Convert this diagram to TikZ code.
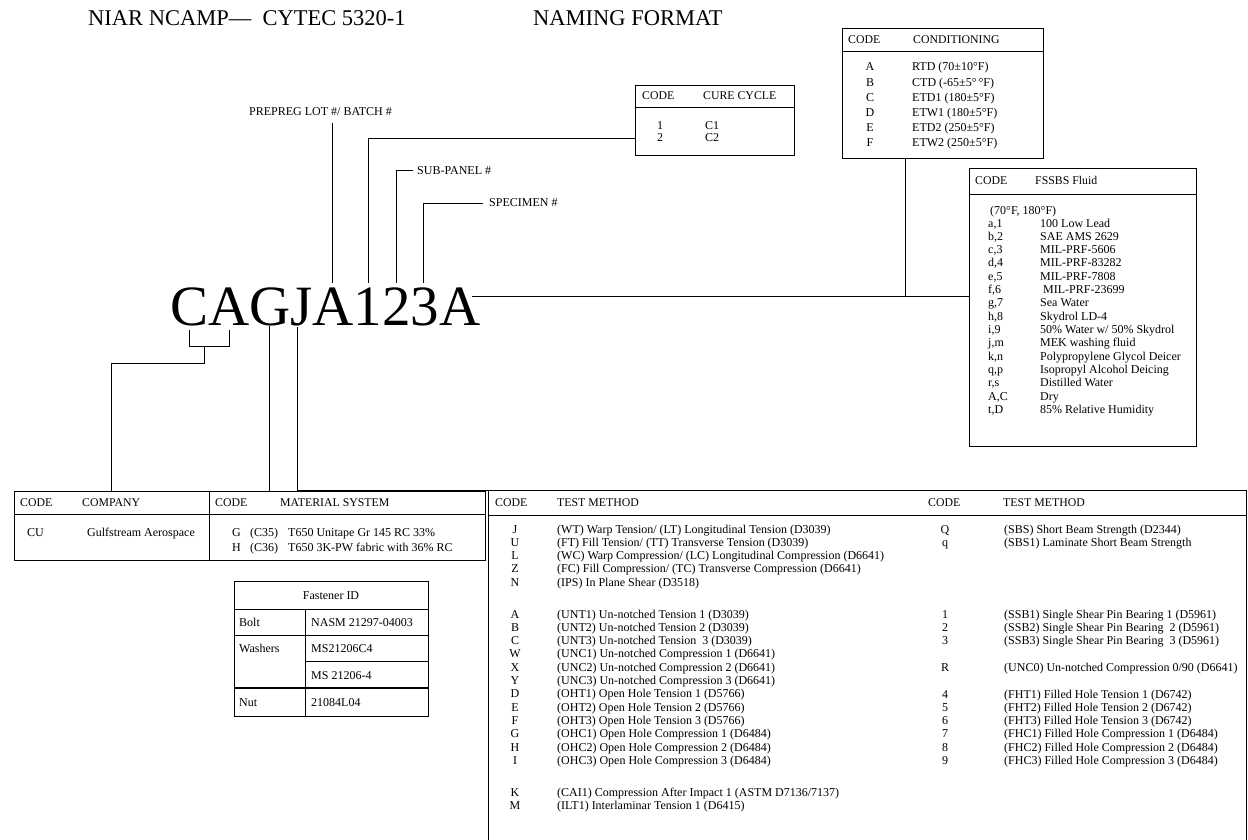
\documentclass[tikz,border=0pt]{standalone}
\usepackage{fontspec}
\setmainfont{Liberation Serif}
\begin{document}
\begin{tikzpicture}[x=1pt,y=-1pt]
\tikzset{
 ln/.style={line width=1pt},
 bx/.style={draw, line width=1pt, inner sep=0pt, anchor=north west},
 tx/.style={inner sep=0pt, anchor=base west, font=\fontsize{12}{14}\selectfont},
 tc/.style={inner sep=0pt, anchor=base, font=\fontsize{12}{14}\selectfont},
 hd/.style={inner sep=0pt, anchor=base west, font=\fontsize{11.8}{13}\selectfont},
 ttl/.style={inner sep=0pt, anchor=base west, font=\fontsize{22.5}{26}\selectfont},
}
\useasboundingbox (0,0) rectangle (1248,840);
\fill[white] (0,0) rectangle (1248,840);

% titles
\node[ttl] (title1) at (88,26) {NIAR NCAMP—\ \ CYTEC 5320-1};
\node[ttl] (title2) at (533,26) {NAMING FORMAT};

% big code
\node[inner sep=0pt, anchor=base west, font=\fontsize{57}{60}\selectfont] (code) at (170,325) {CAGJA123A};

% labels
\node[tx] (lot) at (249,116) {PREPREG LOT \#/ BATCH \#};
\node[tx] (sub) at (417,175) {SUB-PANEL \#};
\node[tx] (spec) at (489,207) {SPECIMEN \#};

% coordinates on letters
\coordinate (aTop) at (332,283);
\coordinate (oneTop) at (368,283);
\coordinate (twoTop) at (396,283);
\coordinate (threeTop) at (423,283);
\coordinate (lastA) at (472,296);
\coordinate (cBot) at (189,330);
\coordinate (aBot) at (229,330);
\coordinate (gBot) at (269,326);
\coordinate (jBot) at (297,327);

% cure cycle box
\node[bx, minimum width=159, minimum height=70] (cure) at (635,85) {};
\draw[ln] (635,108) -- (794,108);
\node[hd] (cureh1) at (642,100) {CODE};
\node[hd] (cureh2) at (703,100) {CURE CYCLE};
\node[tc] (cr1) at (660,130) {1};
\node[tx] (cr1b) at (705,130) {C1};
\node[tc] (cr2) at (660,142) {2};
\node[tx] (cr2b) at (705,142) {C2};

% conditioning box
\node[bx, minimum width=201, minimum height=130] (cond) at (842,28) {};
\draw[ln] (842,52) -- (1043,52);
\node[hd] (condh1) at (848,44) {CODE};
\node[hd] (condh2) at (913,44) {CONDITIONING};
\foreach \c/\t [count=\i from 0] in {A/{RTD (70±10°F)},B/{CTD (-65±5°\,°F)},C/{ETD1 (180±5°F)},D/{ETW1 (180±5°F)},E/{ETD2 (250±5°F)},F/{ETW2 (250±5°F)}}{
  \node[tc] (cc\i) at (870,{71+15.2*\i}) {\c};
  \node[tx] (ct\i) at (912,{71+15.2*\i}) {\t};
}

% FSSBS box
\node[bx, minimum width=227, minimum height=278] (fss) at (969,168) {};
\draw[ln] (969,194) -- (1196,194);
\node[hd] (fssh1) at (975,185) {CODE};
\node[hd] (fssh2) at (1035,185) {FSSBS Fluid};
\node[tx] (fsst) at (990,214) {(70°F, 180°F)};
\foreach \c/\t [count=\i from 0] in {{a,1}/{100 Low Lead},{b,2}/{SAE AMS 2629},{c,3}/{MIL-PRF-5606},{d,4}/{MIL-PRF-83282},{e,5}/{MIL-PRF-7808},{f,6}/{\ MIL-PRF-23699},{g,7}/{Sea Water},{h,8}/{Skydrol LD-4},{i,9}/{50\% Water w/ 50\% Skydrol},{j,m}/{MEK washing fluid},{k,n}/{Polypropylene Glycol Deicer},{q,p}/{Isopropyl Alcohol Deicing},{r,s}/{Distilled Water},{A,C}/{Dry},{t,D}/{85\% Relative Humidity}}{
  \node[tx] (fc\i) at (988,{227+13.33*\i}) {\c};
  \node[tx] (ft\i) at (1040,{227+13.33*\i}) {\t};
}

% company box
\node[bx, minimum width=195, minimum height=69] (comp) at (14,491) {};
\draw[ln] (14,514) -- (209,514);
\node[hd] (comph1) at (20,506) {CODE};
\node[hd] (comph2) at (82,506) {COMPANY};
\node[tx] (compc) at (27,536) {CU};
\node[tx] (compt) at (87,536) {Gulfstream Aerospace};

% material box
\node[bx, minimum width=276, minimum height=69] (mat) at (209,491) {};
\draw[ln] (209,514) -- (485,514);
\node[hd] (math1) at (215,506) {CODE};
\node[hd] (math2) at (280,506) {MATERIAL SYSTEM};
\node[tx] (m1a) at (232,536) {G};
\node[tx] (m1b) at (250,536) {(C35)};
\node[tx] (m1c) at (288,536) {T650 Unitape Gr 145 RC 33\%};
\node[tx] (m2a) at (232,551) {H};
\node[tx] (m2b) at (250,551) {(C36)};
\node[tx] (m2c) at (288,551) {T650 3K-PW fabric with 36\% RC};

% fastener table
\node[bx, minimum width=194, minimum height=135, line width=1.4pt] (fast) at (234,581) {};
\draw[ln] (234,609) -- (428,609);
\draw[ln] (305,609) -- (305,716);
\draw[ln] (234,635) -- (428,635);
\draw[ln] (305,661) -- (428,661);
\draw[line width=1.4pt] (234,688) -- (428,688);
\node[tc] (fid) at (331,599) {Fastener ID};
\node[tx] (fb1) at (239,626) {Bolt};
\node[tx] (fb2) at (311,626) {NASM 21297-04003};
\node[tx] (fw1) at (239,652) {Washers};
\node[tx] (fw2) at (311,652) {MS21206C4};
\node[tx] (fw3) at (311,679) {MS 21206-4};
\node[tx] (fn1) at (239,706) {Nut};
\node[tx] (fn2) at (311,706) {21084L04};

% test method box
\node[bx, minimum width=758, minimum height=370] (test) at (488,490) {};
\draw[ln] (488,515) -- (1246,515);
\node[hd] (th1) at (495,506) {CODE};
\node[hd] (th2) at (557,506) {TEST METHOD};
\node[hd] (th3) at (928,506) {CODE};
\node[hd] (th4) at (1003,506) {TEST METHOD};
\foreach \c/\t [count=\i from 0] in {J/{(WT) Warp Tension/ (LT) Longitudinal Tension (D3039)},U/{(FT) Fill Tension/ (TT) Transverse Tension (D3039)},L/{(WC) Warp Compression/ (LC) Longitudinal Compression (D6641)},Z/{(FC) Fill Compression/ (TC) Transverse Compression (D6641)},N/{(IPS) In Plane Shear (D3518)}}{
  \node[tc] (ta\i) at (515,{533+13.33*\i}) {\c};
  \node[tx] (tat\i) at (557,{533+13.33*\i}) {\t};
}
\foreach \c/\t [count=\i from 0] in {A/{(UNT1) Un-notched Tension 1 (D3039)},B/{(UNT2) Un-notched Tension 2 (D3039)},C/{(UNT3) Un-notched Tension\ \ 3 (D3039)},W/{(UNC1) Un-notched Compression 1 (D6641)},X/{(UNC2) Un-notched Compression 2 (D6641)},Y/{(UNC3) Un-notched Compression 3 (D6641)},D/{(OHT1) Open Hole Tension 1 (D5766)},E/{(OHT2) Open Hole Tension 2 (D5766)},F/{(OHT3) Open Hole Tension 3 (D5766)},G/{(OHC1) Open Hole Compression 1 (D6484)},H/{(OHC2) Open Hole Compression 2 (D6484)},I/{(OHC3) Open Hole Compression 3 (D6484)}}{
  \node[tc] (tb\i) at (515,{618+13.33*\i}) {\c};
  \node[tx] (tbt\i) at (557,{618+13.33*\i}) {\t};
}
\foreach \c/\t [count=\i from 0] in {K/{(CAI1) Compression After Impact 1 (ASTM D7136/7137)},M/{(ILT1) Interlaminar Tension 1 (D6415)}}{
  \node[tc] (tk\i) at (515,{796+13.33*\i}) {\c};
  \node[tx] (tkt\i) at (557,{796+13.33*\i}) {\t};
}
\foreach \c/\t [count=\i from 0] in {Q/{(SBS) Short Beam Strength (D2344)},q/{(SBS1) Laminate Short Beam Strength}}{
  \node[tc] (rq\i) at (945,{533+13.33*\i}) {\c};
  \node[tx] (rqt\i) at (1004,{533+13.33*\i}) {\t};
}
\foreach \c/\t [count=\i from 0] in {1/{(SSB1) Single Shear Pin Bearing 1 (D5961)},2/{(SSB2) Single Shear Pin Bearing\ \ 2 (D5961)},3/{(SSB3) Single Shear Pin Bearing\ \ 3 (D5961)}}{
  \node[tc] (rs\i) at (945,{618+13.33*\i}) {\c};
  \node[tx] (rst\i) at (1004,{618+13.33*\i}) {\t};
}
\node[tc] (rr) at (945,671.3) {R};
\node[tx] (rrt) at (1004,671.3) {(UNC0) Un-notched Compression 0/90 (D6641)};
\foreach \c/\t [count=\i from 0] in {4/{(FHT1) Filled Hole Tension 1 (D6742)},5/{(FHT2) Filled Hole Tension 2 (D6742)},6/{(FHT3) Filled Hole Tension 3 (D6742)},7/{(FHC1) Filled Hole Compression 1 (D6484)},8/{(FHC2) Filled Hole Compression 2 (D6484)},9/{(FHC3) Filled Hole Compression 3 (D6484)}}{
  \node[tc] (rf\i) at (945,{698+13.33*\i}) {\c};
  \node[tx] (rft\i) at (1004,{698+13.33*\i}) {\t};
}

% connectors
\coordinate (lotBot) at (332,123);
\draw[ln] (lotBot) -- (aTop);
\coordinate (cureIn) at (635,139);
\draw[ln] (oneTop) |- (cureIn);
\coordinate (subEnd) at (413,171);
\draw[ln] (twoTop) |- (subEnd);
\coordinate (specEnd) at (483,203);
\draw[ln] (threeTop) |- (specEnd);
\coordinate (condOut) at (905,158);
\coordinate (condJoin) at (905,296);
\draw[ln] (condOut) -- (condJoin);
\coordinate (fssIn) at (969,296);
\draw[ln] (lastA) -- (fssIn);
% bracket under C A
\coordinate (brL) at (189,346);
\coordinate (brR) at (229,346);
\coordinate (brM) at (204,346);
\draw[ln] (cBot) -- (brL) -- (brR) -- (aBot);
\coordinate (compTop) at (111,491);
\draw[ln] (brM) -- (204,363) -| (compTop);
\coordinate (matTop) at (365,491);
\draw[ln] (gBot) |- (matTop);
\coordinate (testTop) at (843,490);
\draw[ln] (jBot) |- (testTop);
\end{tikzpicture}
\end{document}
